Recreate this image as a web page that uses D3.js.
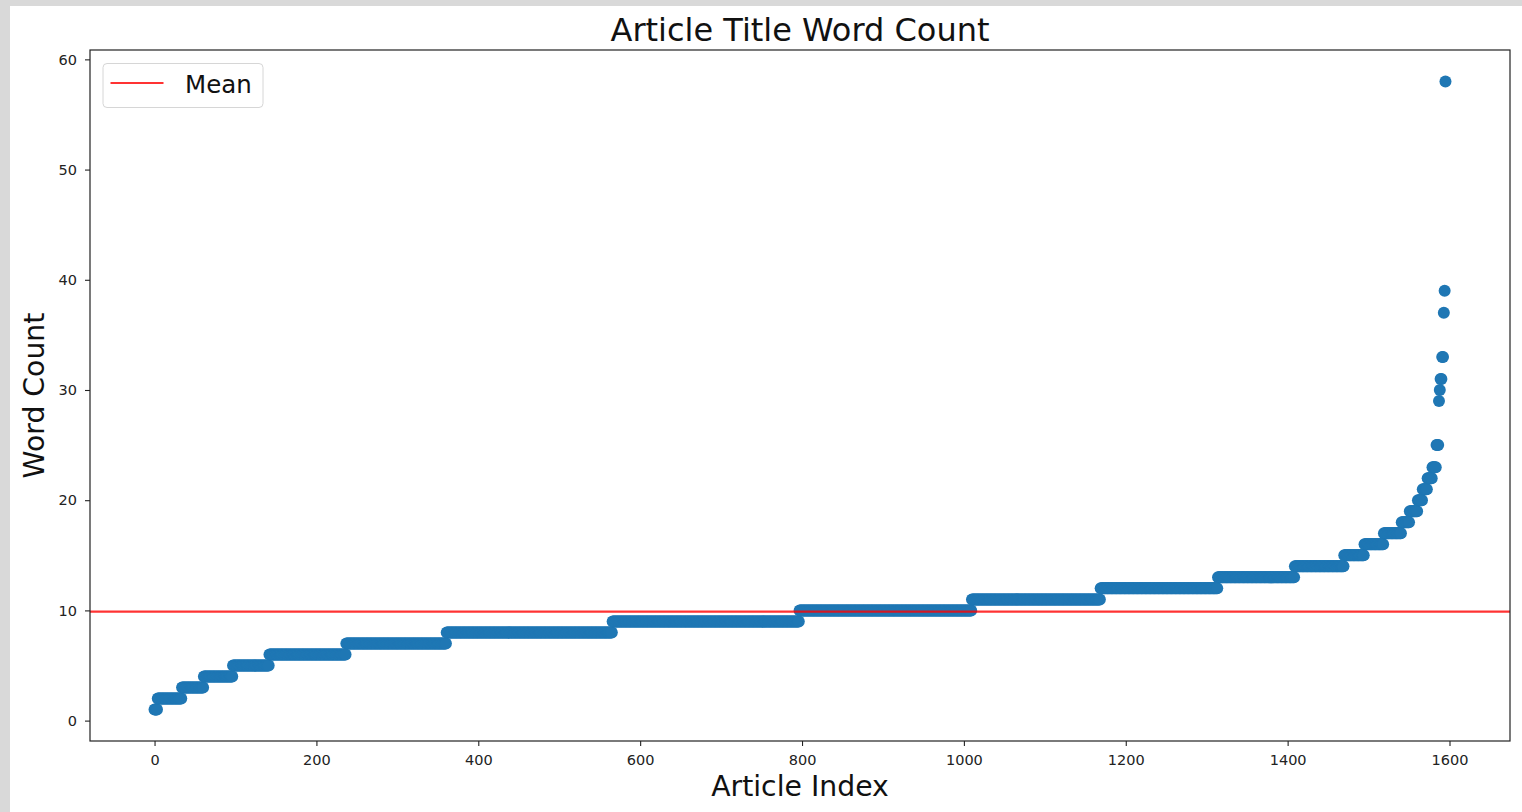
<!DOCTYPE html>
<html>
<head>
<meta charset="utf-8">
<script src="https://cdn.jsdelivr.net/npm/d3@7"></script>
<style>
  html, body { margin: 0; padding: 0; background: #ffffff; }
  svg { display: block; }
  text { font-family: "DejaVu Sans", sans-serif; }
</style>
</head>
<body>
<div id="chart"></div>
<script>
// ---- data ----
// distinct title word counts and how many articles have each count
const wordCounts    = [1, 2, 3, 4, 5, 6, 7, 8, 9, 10, 11, 12, 13, 14, 15, 16, 17, 18, 19, 20, 21, 22, 23, 25, 29, 30, 31, 33, 37, 39, 58];
const articleCounts = [4, 30, 27, 36, 45, 95, 124, 205, 231, 213, 159, 145, 95, 61, 25, 24, 22, 10, 10, 6, 6, 6, 5, 3, 1, 1, 2, 2, 1, 1, 1];
const xTicks = [0, 200, 400, 600, 800, 1000, 1200, 1400, 1600];
const yTicks = [0, 10, 20, 30, 40, 50, 60];
const titleText = "Article Title Word Count";
const xLabel = "Article Index";
const yLabel = "Word Count";
const legendLabel = "Mean";

// sorted word counts, one entry per article (expanded from the counts above)
const points = [];
wordCounts.forEach((w, i) => {
  for (let k = 0; k < articleCounts[i]; k++) points.push(w);
});
const meanValue = d3.mean(points);

// ---- layout ----
const W = 1522, H = 812;
const L = 90, R = 1510, T = 50, B = 741;

const svg = d3.select("#chart").append("svg")
  .attr("width", W).attr("height", H);

svg.append("rect").attr("width", W).attr("height", H).attr("fill", "#d9d9d9");
svg.append("rect").attr("x", 10).attr("y", 6).attr("width", W - 10).attr("height", H - 6).attr("fill", "#ffffff");

const n = points.length;
const xMin = 0, xMax = n - 1;
const yMin = d3.min(points), yMax = d3.max(points);
const xPad = 0.05 * (xMax - xMin), yPad = 0.05 * (yMax - yMin);

const x = d3.scaleLinear().domain([xMin - xPad, xMax + xPad]).range([L, R]);
const y = d3.scaleLinear().domain([yMin - yPad, yMax + yPad]).range([B, T]);

const plot = svg.append("g");
plot.append("clipPath").attr("id", "clip")
  .append("rect").attr("x", L).attr("y", T).attr("width", R - L).attr("height", B - T);

const marks = plot.append("g").attr("clip-path", "url(#clip)");
marks.selectAll("circle").data(points).join("circle")
  .attr("cx", (d, i) => x(i))
  .attr("cy", d => y(d))
  .attr("r", 6)
  .attr("fill", "#1f77b4");

marks.append("line")
  .attr("x1", L).attr("x2", R)
  .attr("y1", y(meanValue)).attr("y2", y(meanValue))
  .attr("stroke", "red").attr("stroke-opacity", 0.8).attr("stroke-width", 2.2);

// axes
const xAxis = svg.append("g").attr("transform", `translate(0,${B})`)
  .call(d3.axisBottom(x).tickValues(xTicks).tickFormat(d3.format("d")).tickSize(5).tickPadding(8.5));
const yAxis = svg.append("g").attr("transform", `translate(${L},0)`)
  .call(d3.axisLeft(y).tickValues(yTicks).tickFormat(d3.format("d")).tickSize(5).tickPadding(8));
[xAxis, yAxis].forEach(a => {
  a.select(".domain").remove();
  a.selectAll(".tick line").attr("stroke", "#222").attr("stroke-width", 1.1);
  a.selectAll(".tick text").attr("fill", "#222").style("font-size", "14.5px")
    .style("font-family", "'DejaVu Sans', sans-serif");
});

// frame
svg.append("rect").attr("x", L).attr("y", T).attr("width", R - L).attr("height", B - T)
  .attr("fill", "none").attr("stroke", "#222").attr("stroke-width", 1.2);

// title and labels
svg.append("text").attr("x", (L + R) / 2).attr("y", 41).attr("text-anchor", "middle")
  .style("font-size", "32px").attr("fill", "#111").text(titleText);
svg.append("text").attr("x", (L + R) / 2).attr("y", 796).attr("text-anchor", "middle")
  .style("font-size", "28.3px").attr("fill", "#111").text(xLabel);
svg.append("text").attr("transform", `translate(44,${(T + B) / 2}) rotate(-90)`).attr("text-anchor", "middle")
  .style("font-size", "28.3px").attr("fill", "#111").text(yLabel);

// legend
const lg = svg.append("g");
lg.append("rect").attr("x", 103).attr("y", 63.5).attr("width", 160).attr("height", 44)
  .attr("rx", 4).attr("fill", "#ffffff").attr("fill-opacity", 0.8)
  .attr("stroke", "#d6d6d6").attr("stroke-width", 1);
lg.append("line").attr("x1", 110.5).attr("x2", 163.5).attr("y1", 83).attr("y2", 83)
  .attr("stroke", "red").attr("stroke-opacity", 0.8).attr("stroke-width", 2.2);
lg.append("text").attr("x", 185).attr("y", 93).style("font-size", "24.5px").attr("fill", "#111").text(legendLabel);
</script>
</body>
</html>
